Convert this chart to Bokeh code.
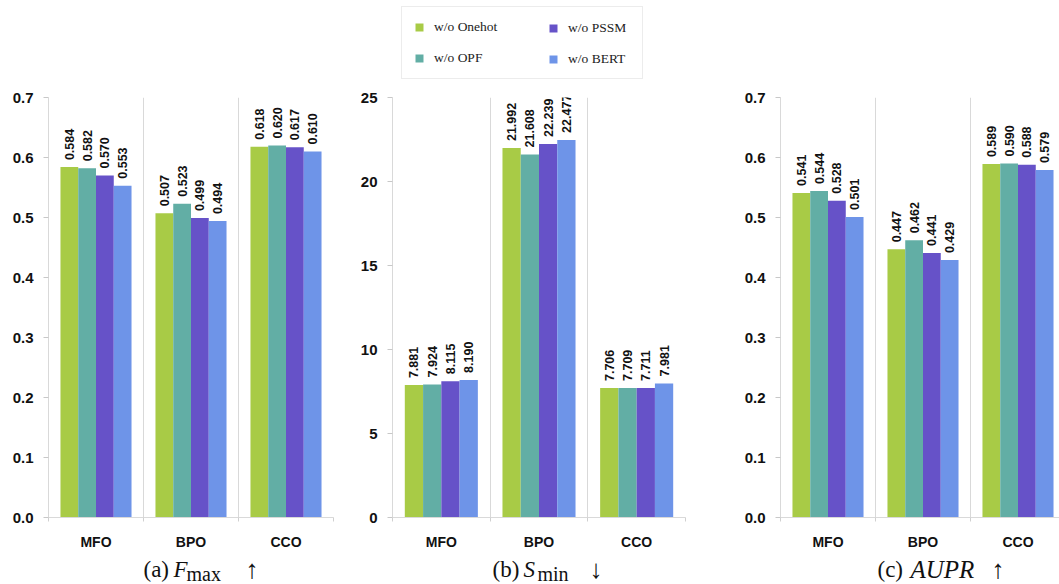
from bokeh.plotting import figure
from bokeh.layouts import row, column
from bokeh.models import (ColumnDataSource, Range1d, FixedTicker, PrintfTickFormatter,
                          LabelSet, Label, Legend, LegendItem)
from bokeh.core.properties import value
from bokeh.embed import file_html
from bokeh.resources import INLINE

categories = ["MFO", "BPO", "CCO"]
series = ["w/o Onehot", "w/o OPF", "w/o PSSM", "w/o BERT"]
colors = ["#A8CB46", "#62AEA5", "#6652C8", "#6E94E8"]

fmax_onehot = [0.584, 0.507, 0.618]
fmax_opf = [0.582, 0.523, 0.620]
fmax_pssm = [0.570, 0.499, 0.617]
fmax_bert = [0.553, 0.494, 0.610]

smin_onehot = [7.881, 21.992, 7.706]
smin_opf = [7.924, 21.608, 7.709]
smin_pssm = [8.115, 22.239, 7.711]
smin_bert = [8.190, 22.477, 7.981]

aupr_onehot = [0.541, 0.447, 0.589]
aupr_opf = [0.544, 0.462, 0.590]
aupr_pssm = [0.528, 0.441, 0.588]
aupr_bert = [0.501, 0.429, 0.579]

score_ticks = [0.0, 0.1, 0.2, 0.3, 0.4, 0.5, 0.6, 0.7]
smin_ticks = [0, 5, 10, 15, 20, 25]

BW = 0.187
TOP_H = 87
FRAME_TOP = 10
FRAME_H = 425
PANEL_H = 465
CAP_H = 32
W = 1059


def make_panel(values, y_end, y_ticks, fmt, width, border_left, border_right, x_end):
    p = figure(width=width, height=PANEL_H, output_backend="svg", toolbar_location=None,
               x_range=Range1d(0, x_end), y_range=Range1d(0, y_end),
               min_border_top=FRAME_TOP, min_border_bottom=PANEL_H - FRAME_TOP - FRAME_H,
               min_border_left=border_left, min_border_right=border_right)
    p.outline_line_color = None
    p.background_fill_color = "white"
    for j, vals in enumerate(values):
        xs = [i + 0.5 + (j - 1.5) * BW for i in range(len(categories))]
        src = ColumnDataSource(dict(x=xs, top=vals, lab=["%.3f" % v for v in vals]))
        p.vbar(x="x", top="top", width=BW, bottom=0, source=src,
               fill_color=colors[j], line_color=None)
        p.add_layout(LabelSet(x="x", y="top", text="lab", source=src, angle=90, angle_units="deg",
                              text_align="left", text_baseline="middle", y_offset=7,
                              text_font=value("Liberation Sans"), text_font_style="bold",
                              text_font_size="12.5px", text_color="#111111"))
    p.xaxis.ticker = FixedTicker(ticks=[i + 0.5 for i in range(len(categories))],
                                 minor_ticks=[0, 1, 2, 3])
    p.xaxis.major_label_overrides = {i + 0.5: c for i, c in enumerate(categories)}
    p.xaxis.axis_line_color = "#d9d9d9"
    p.xaxis.major_tick_line_color = None
    p.xaxis.major_tick_out = 0
    p.xaxis.minor_tick_line_color = "#d0d0d0"
    p.xaxis.minor_tick_out = 4
    p.xaxis.minor_tick_in = 0
    p.xaxis.major_label_standoff = 12
    p.xaxis.major_label_text_font = "Liberation Sans"
    p.xaxis.major_label_text_font_style = "bold"
    p.xaxis.major_label_text_font_size = "14px"
    p.xaxis.major_label_text_color = "#111111"

    p.yaxis.ticker = FixedTicker(ticks=y_ticks)
    p.yaxis.formatter = PrintfTickFormatter(format=fmt)
    p.yaxis.axis_line_color = "#d9d9d9"
    p.yaxis.major_tick_line_color = "#c8c8c8"
    p.yaxis.major_tick_out = 5
    p.yaxis.major_tick_in = 0
    p.yaxis.minor_tick_line_color = None
    p.yaxis.major_label_standoff = 10
    p.yaxis.major_label_text_font = "Liberation Sans"
    p.yaxis.major_label_text_font_style = "bold"
    p.yaxis.major_label_text_font_size = "15px"
    p.yaxis.major_label_text_color = "#111111"

    p.ygrid.visible = False
    p.xgrid.ticker = FixedTicker(ticks=[1, 2, 3])
    p.xgrid.grid_line_color = "#d9d9d9"
    p.xgrid.grid_line_width = 1
    return p


p1 = make_panel([fmax_onehot, fmax_opf, fmax_pssm, fmax_bert], 0.7, score_ticks, "%.1f",
                345, 48, 12, 3)
p2 = make_panel([smin_onehot, smin_opf, smin_pssm, smin_bert], 25, smin_ticks, "%d",
                352, 47, 12, 3)
p3 = make_panel([aupr_onehot, aupr_opf, aupr_pssm, aupr_bert], 0.7, score_ticks, "%.1f",
                362, 83, 0, 279 / 95)

# legend strip above the panels (proxy renderers sit outside the visible range)
top = figure(width=W, height=TOP_H, output_backend="svg", toolbar_location=None,
             x_range=Range1d(0, W), y_range=Range1d(0, TOP_H),
             min_border=0, min_border_left=0, min_border_right=0,
             min_border_top=0, min_border_bottom=0)
top.axis.visible = False
top.grid.visible = False
top.outline_line_color = None
leg_renderers = [top.vbar(x=[-100], top=[-100], bottom=-101, width=1, fill_color=c, line_color=None)
                 for c in colors]

leg_common = dict(orientation="vertical", glyph_width=10, glyph_height=10, label_height=16,
                  spacing=15, padding=12, margin=0, label_standoff=10,
                  label_text_font="Liberation Serif", label_text_font_size="13.5px",
                  label_text_color="#222222")
legA = Legend(items=[LegendItem(label=series[0], renderers=[leg_renderers[0]]),
                     LegendItem(label=series[1], renderers=[leg_renderers[1]])],
              location=(401, 8), label_width=196, border_line_color="#d9d9d9",
              border_line_width=1, background_fill_color="white", background_fill_alpha=1,
              **leg_common)
legB = Legend(items=[LegendItem(label=series[2], renderers=[leg_renderers[2]]),
                     LegendItem(label=series[3], renderers=[leg_renderers[3]])],
              location=(536, 8), border_line_alpha=0, background_fill_alpha=0,
              **leg_common)
top.add_layout(legA)
top.add_layout(legB)

# caption strip below the panels
cap = figure(width=W, height=CAP_H, output_backend="svg", toolbar_location=None,
             x_range=Range1d(0, W), y_range=Range1d(0, CAP_H),
             min_border=0, min_border_left=0, min_border_right=0,
             min_border_top=0, min_border_bottom=0)
cap.axis.visible = False
cap.grid.visible = False
cap.outline_line_color = None
captions = [("(a)", 143, 15, "23px", "normal"), ("F", 173, 15, "23px", "italic"),
            ("max", 186, 11, "20px", "normal"), ("\u2191", 245, 15, "26px", "normal"),
            ("(b)", 492, 15, "23px", "normal"), ("S", 523, 15, "23px", "italic"),
            ("min", 537, 11, "20px", "normal"), ("\u2193", 589, 15, "26px", "normal"),
            ("(c)", 877, 15, "23px", "normal"), ("AUPR", 910, 15, "25px", "italic"),
            ("\u2191", 991, 15, "26px", "normal")]
for (txt, x, y, size, style) in captions:
    cap.add_layout(Label(x=x, y=y, text=txt, text_font="Liberation Serif",
                         text_font_size=size, text_font_style=style, text_align="left",
                         text_baseline="alphabetic", text_color="#111111"))

layout = column(top, row(p1, p2, p3, spacing=0), cap, spacing=0)
open("out.html", "w").write(file_html(layout, INLINE))
